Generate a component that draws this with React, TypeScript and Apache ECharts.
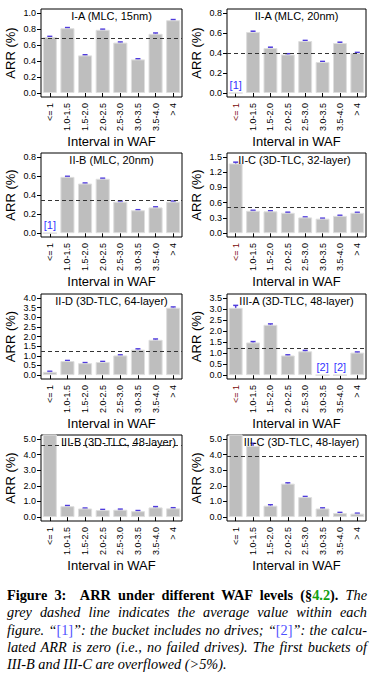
import React, { useEffect, useRef } from "react";
import * as echarts from "echarts";

const categories = ["<= 1", "1.0-1.5", "1.5-2.0", "2.0-2.5", "2.5-3.0", "3.0-3.5", "3.5-4.0", "> 4"];

const titles = [
  "I-A (MLC, 15nm)",
  "II-A (MLC, 20nm)",
  "II-B (MLC, 20nm)",
  "II-C (3D-TLC, 32-layer)",
  "II-D (3D-TLC, 64-layer)",
  "III-A (3D-TLC, 48-layer)",
  "III-B (3D-TLC, 48-layer)",
  "III-C (3D-TLC, 48-layer)",
];

// ARR values (%) per WAF bucket
const valuesIA = [0.7, 0.81, 0.47, 0.79, 0.63, 0.42, 0.74, 0.91];
const valuesIIA = [0, 0.61, 0.45, 0.385, 0.52, 0.31, 0.5, 0.4];
const valuesIIB = [0, 0.59, 0.52, 0.57, 0.33, 0.24, 0.27, 0.33];
const valuesIIC = [1.37, 0.44, 0.43, 0.4, 0.31, 0.285, 0.34, 0.4];
const valuesIID = [0.17, 0.73, 0.62, 0.68, 1.02, 1.32, 1.83, 3.49];
const valuesIIIA = [3.05, 1.48, 2.28, 0.89, 1.08, 0, 0, 1.02];
const valuesIIIB = [6.0, 0.7, 0.55, 0.45, 0.47, 0.38, 0.62, 0.56];
const valuesIIIC = [6.0, 4.56, 0.73, 2.14, 1.28, 0.55, 0.26, 0.22];

// error half-widths
const errIA = [0.008, 0.008, 0.008, 0.008, 0.008, 0.008, 0.01, 0.008];
const errIIA = [0, 0.008, 0.008, 0.008, 0.006, 0.006, 0.008, 0.006];
const errIIB = [0, 0.006, 0.006, 0.006, 0.006, 0.006, 0.006, 0.006];
const errIIC = [0.025, 0.01, 0.01, 0.012, 0.01, 0.01, 0.012, 0.01];
const errIID = [0.03, 0.03, 0.03, 0.03, 0.03, 0.04, 0.04, 0.04];
const errIIIA = [0.11, 0.04, 0.04, 0.03, 0.04, 0, 0, 0.03];
const errIIIB = [0, 0.04, 0.03, 0.04, 0.04, 0.04, 0.05, 0.04];
const errIIIC = [0, 0.16, 0.06, 0.05, 0.04, 0.04, 0.04, 0.03];

// average (grey dashed line)
const averages = [0.68, 0.395, 0.355, 0.5, 1.25, 1.23, 4.6, 3.86];

// y tick labels
const ticksIA = [0, 0.2, 0.4, 0.6, 0.8, 1.0];
const ticksIIA = [0, 0.2, 0.4, 0.6, 0.8];
const ticksIIB = [0, 0.2, 0.4, 0.6, 0.8];
const ticksIIC = [0, 0.3, 0.6, 0.9, 1.2, 1.5];
const ticksIID = [0, 0.5, 1.0, 1.5, 2.0, 2.5, 3.0, 3.5, 4.0];
const ticksIIIA = [0, 0.5, 1.0, 1.5, 2.0, 2.5, 3.0, 3.5];
const ticksIIIB = [0, 1.0, 2.0, 3.0, 4.0, 5.0];
const ticksIIIC = [0, 1.0, 2.0, 3.0, 4.0, 5.0];

// notes: bucket index -> marker text
const notesIIA = { 0: "[1]" };
const notesIIB = { 0: "[1]" };
const notesIIIA = { 5: "[2]", 6: "[2]" };

const panelValues = [valuesIA, valuesIIA, valuesIIB, valuesIIC, valuesIID, valuesIIIA, valuesIIIB, valuesIIIC];
const panelErrors = [errIA, errIIA, errIIB, errIIC, errIID, errIIIA, errIIIB, errIIIC];
const panelTicks = [ticksIA, ticksIIA, ticksIIB, ticksIIC, ticksIID, ticksIIIA, ticksIIIB, ticksIIIC];
const panelNotes: Record<number, string>[] = [{}, notesIIA, notesIIB, {}, {}, notesIIIA, {}, {}];

// layout
const colLeft = [41, 227];
const colWidth = [141, 139];
const rowTop = [9, 153, 294, 435];
const rowHeight = [88, 84, 85, 86];
const titleShift = [0, 0, 0, -2, 0, 0, 7, 5];
const redFirstLabel = [false, true, false, true, false, true, false, false];

const FONT = "Arial, Liberation Sans, Helvetica, sans-serif";
const BAR = "#bebebe";
const ERR = "#4f3bdc";
const NOTE = "#3535ff";

export default function App() {
  const ref = useRef<HTMLDivElement>(null);

  useEffect(() => {
    if (!ref.current) return;
    const chart = echarts.init(ref.current, null, { renderer: "svg" });

    const grids: any[] = [];
    const xAxes: any[] = [];
    const yAxes: any[] = [];
    const series: any[] = [];
    const title: any[] = [];

    panelValues.forEach((vals, i) => {
      const col = i % 2;
      const row = Math.floor(i / 2);
      const ticks = panelTicks[i];
      const top = ticks[ticks.length - 1];
      const left = colLeft[col];
      const width = colWidth[col];
      grids.push({
        left,
        top: rowTop[row],
        width,
        height: rowHeight[row],
        show: true,
        borderColor: "#000",
        borderWidth: 1,
        backgroundColor: "transparent",
        containLabel: false,
        outerBoundsMode: "none",
      });
      title.push({
        text: titles[i],
        left: left + width / 2 + titleShift[i],
        top: rowTop[row] + 1.5,
        textAlign: "center",
        padding: 0,
        textStyle: { fontFamily: FONT, fontSize: 11, fontWeight: "normal", color: "#000" },
      });
      xAxes.push({
        type: "category",
        gridIndex: i,
        data: categories,
        axisLine: { show: false },
        axisTick: { show: true, alignWithLabel: true, length: 4, lineStyle: { color: "#000", width: 1 } },
        axisLabel: {
          interval: 0,
          rotate: 90,
          margin: 6,
          fontSize: 9,
          fontFamily: FONT,
          color: (v: string) => (v === "<= 1" && redFirstLabel[i] ? "#7a0a0a" : "#000"),
        },
        name: "Interval in WAF",
        nameLocation: "middle",
        nameGap: 35,
        nameTextStyle: { fontFamily: FONT, fontSize: 13, color: "#000" },
      });
      yAxes.push({
        type: "value",
        gridIndex: i,
        min: -0.05 * top,
        max: 1.05 * top,
        axisLine: { show: false },
        splitLine: { show: false },
        axisTick: { show: true, length: 4, customValues: ticks, lineStyle: { color: "#000", width: 1 } },
        axisLabel: {
          customValues: ticks,
          formatter: (v: number) => v.toFixed(1),
          fontSize: 9,
          margin: 5,
          fontFamily: FONT,
          color: "#000",
        },
        name: "ARR (%)",
        nameLocation: "middle",
        nameGap: 24,
        nameTextStyle: { fontFamily: FONT, fontSize: 13, color: "#000" },
      });
      const notes = panelNotes[i];
      series.push({
        type: "bar",
        xAxisIndex: i,
        yAxisIndex: i,
        barCategoryGap: "20%",
        clip: true,
        itemStyle: { color: BAR, borderColor: "#dedede", borderWidth: 1 },
        data: vals.map((v, k) =>
          notes[k] !== undefined
            ? {
                value: v,
                label: {
                  show: true,
                  position: "top",
                  distance: 2,
                  formatter: notes[k],
                  color: NOTE,
                  fontSize: 11,
                  fontFamily: FONT,
                },
              }
            : v
        ),
        markLine: {
          silent: true,
          symbol: ["none", "none"],
          label: { show: false },
          lineStyle: { type: [4, 3], color: "#333", width: 1 },
          data: [{ yAxis: averages[i] }],
        },
      });
      const errs = panelErrors[i];
      const errData: number[][] = [];
      vals.forEach((v, k) => {
        if (v > 0 && v <= top && errs[k] > 0) errData.push([k, v - errs[k], v + errs[k]]);
      });
      series.push({
        type: "custom",
        xAxisIndex: i,
        yAxisIndex: i,
        encode: { x: 0, y: [1, 2] },
        data: errData,
        renderItem: (params: any, api: any) => {
          const lo = api.coord([api.value(0), api.value(1)]);
          const hi = api.coord([api.value(0), api.value(2)]);
          const hw = 2.5;
          const style = { stroke: ERR, lineWidth: 1.5 };
          return {
            type: "group",
            children: [
              { type: "line", shape: { x1: lo[0], y1: lo[1], x2: hi[0], y2: hi[1] }, style },
              { type: "line", shape: { x1: lo[0] - hw, y1: lo[1], x2: lo[0] + hw, y2: lo[1] }, style },
              { type: "line", shape: { x1: hi[0] - hw, y1: hi[1], x2: hi[0] + hw, y2: hi[1] }, style },
            ],
          };
        },
      });
    });

    chart.setOption({
      animation: false,
      backgroundColor: "#fff",
      textStyle: { fontFamily: FONT },
      title,
      grid: grids,
      xAxis: xAxes,
      yAxis: yAxes,
      series,
    });
    return () => chart.dispose();
  }, []);

  const blue = { color: "#5050ff", fontStyle: "normal" as const };
  const lineStyle = (last: boolean) => ({
    textAlign: "justify" as const,
    textAlignLast: (last ? "left" : "justify") as any,
    whiteSpace: "nowrap" as const,
    height: 17.3,
  });

  return (
    <div style={{ position: "absolute", left: 0, top: 0, width: 380, height: 683, background: "#fff" }}>
      <div ref={ref} style={{ position: "absolute", left: 0, top: 0, width: 380, height: 580 }} />
      <div
        style={{
          position: "absolute",
          left: 7,
          top: 587,
          width: 360,
          fontFamily: "'Liberation Serif', 'Times New Roman', serif",
          fontSize: 14.3,
          lineHeight: "17.3px",
          color: "#000",
        }}
      >
        <div style={lineStyle(false)}>
          <b>
            Figure 3:&nbsp; ARR under different WAF levels (§<span style={{ color: "#10a010" }}>4.2</span>).
          </b>{" "}
          <i>The</i>
        </div>
        <div style={lineStyle(false)}>
          <i>grey dashed line indicates the average value within each</i>
        </div>
        <div style={lineStyle(false)}>
          <i>
            figure. “<span style={blue}>[1]</span>”: the bucket includes no drives; “<span style={blue}>[2]</span>”: the calcu-
          </i>
        </div>
        <div style={lineStyle(false)}>
          <i>lated ARR is zero (i.e., no failed drives). The first buckets of</i>
        </div>
        <div style={lineStyle(true)}>
          <i>III-B and III-C are overflowed (&gt;5%).</i>
        </div>
      </div>
    </div>
  );
}
